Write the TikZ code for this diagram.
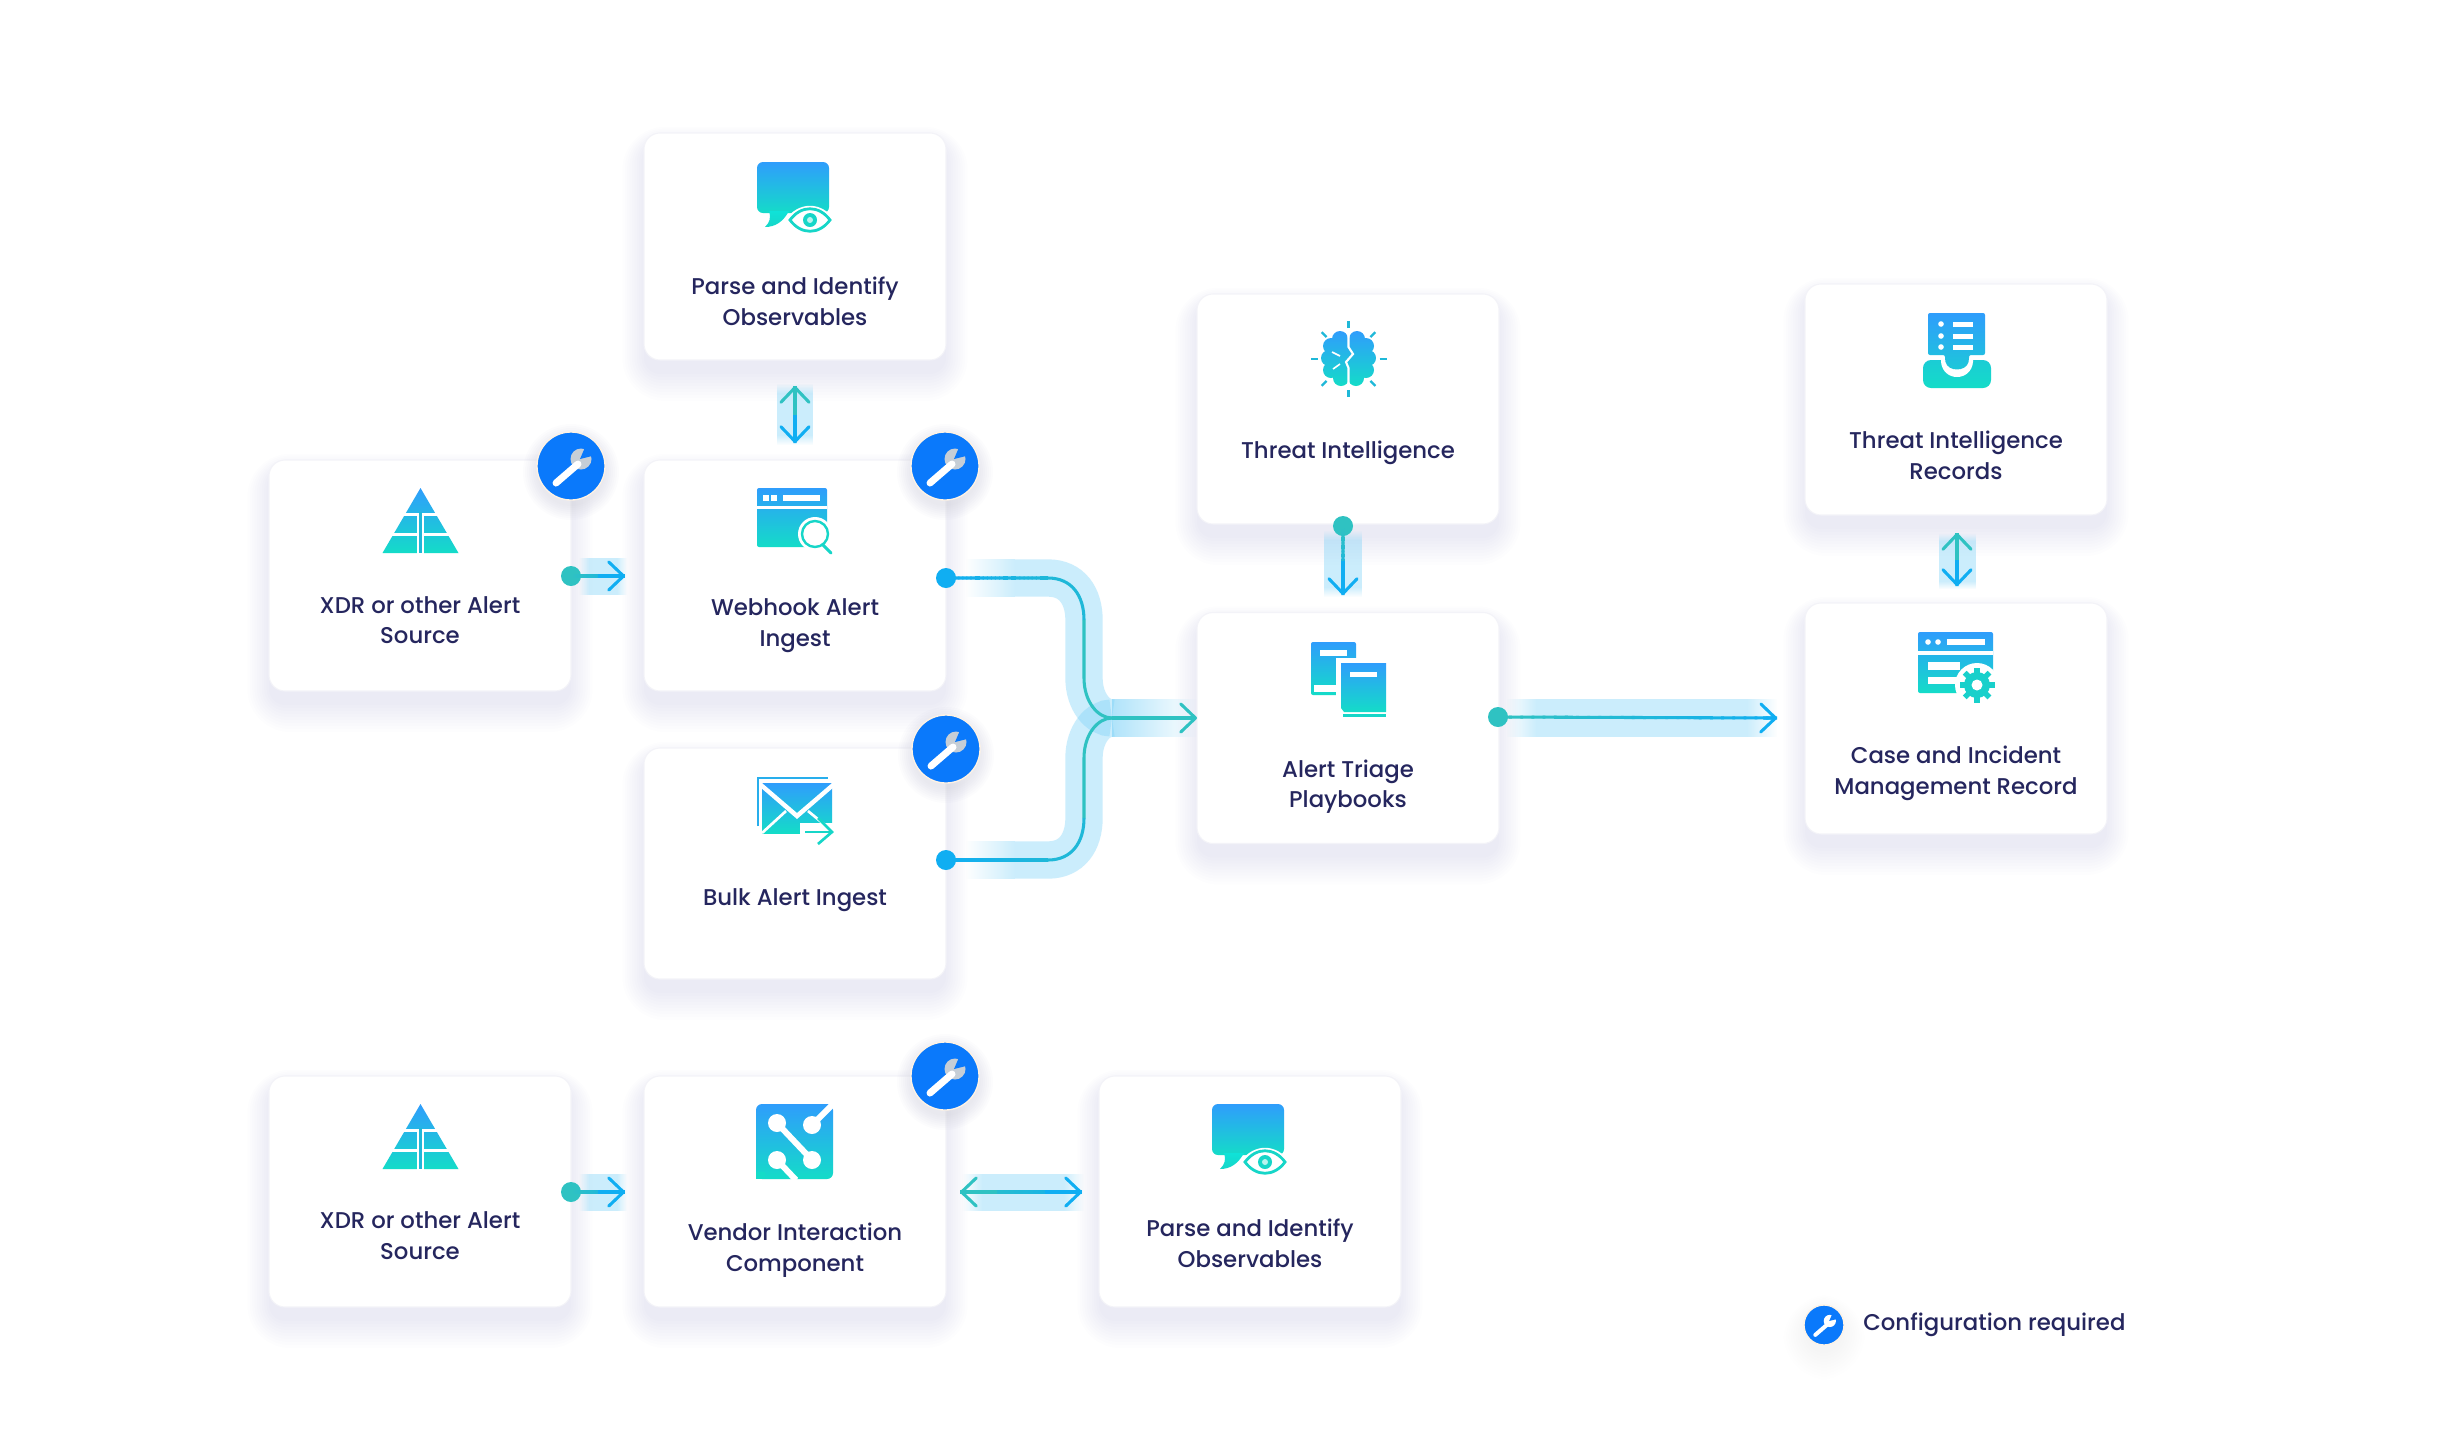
\documentclass[tikz,border=0pt]{standalone}
\usepackage{fontspec}
\setmainfont{Poppins}
\newfontfamily\labfont{Poppins Medium}
\usetikzlibrary{arrows.meta,calc,fadings}
\pgfdeclarelayer{bg}
\pgfsetlayers{bg,main}
\tikzfading[name=fadeL,left color=transparent!100,right color=transparent!0]
\tikzfading[name=fadeR,left color=transparent!0,right color=transparent!100]
\tikzfading[name=fadeT,top color=transparent!100,bottom color=transparent!0]
\tikzfading[name=fadeB,top color=transparent!0,bottom color=transparent!100]
\definecolor{gtop}{HTML}{2F9DFC}
\definecolor{gbot}{HTML}{14DCC8}
\definecolor{inkc}{HTML}{25265E}
\definecolor{bandc}{HTML}{7FD3F8}
\definecolor{shadowc}{HTML}{44448A}
\definecolor{edgec}{HTML}{F3F3F8}
\definecolor{bluec}{HTML}{10AEF2}
\definecolor{midc}{HTML}{1FB8D8}
\definecolor{tealc}{HTML}{2FC2C2}
\definecolor{badgec}{HTML}{0A79FB}
\definecolor{ringc}{HTML}{FFF3E4}
\definecolor{wrenchc}{HTML}{C6CED6}
\definecolor{eyec}{HTML}{16D6C8}
\tikzset{
 cardbox/.style={rounded corners=12pt,fill=white,draw=edgec,line width=.8pt,inner sep=0pt,outer sep=0pt},
 lab/.style={font=\labfont\fontsize{17.1}{23}\selectfont,text=inkc,align=center,inner sep=0pt},
 dotb/.style={circle,inner sep=0pt,minimum size=15pt,fill=bluec},
 dott/.style={circle,inner sep=0pt,minimum size=15pt,fill=tealc},
 badge/.style={circle,inner sep=0pt,minimum size=51pt,fill=badgec,draw=ringc,line width=1pt},
 wire/.style={line width=2.3pt},
 barb/.style={-{Straight Barb[length=11pt,width=21pt,round]}},
 barbl/.style={{Straight Barb[length=11pt,width=21pt,round]}-},
 igrad/.style={top color=gtop,bottom color=gbot},
 bandfill/.style={fill=bandc,opacity=.4},
 bandline/.style={draw=bandc,opacity=.4,line width=28pt}
}
\newcommand\softshadow[6]{%
 \begin{pgfonlayer}{bg}
 \foreach \ee in {0,3,...,27}{
  \fill[shadowc,opacity=#6,rounded corners={(#5+\ee)*0.75pt}]
   (#1-#3/2-\ee*.8,#2-#4/2-\ee*.6+10) rectangle (#1+#3/2+\ee*.8,#2+#4/2+\ee+14);}
 \end{pgfonlayer}}
\newcommand\Card[5]{%
 \softshadow{#2}{#3}{#4}{#5}{16}{.0085}
 \node[cardbox,minimum width={#4*0.75pt},minimum height={#5*0.75pt}] (#1) at (#2,#3) {};}
\newcommand\Badge[3]{%
 \softshadowb{#2}{#3}
 \node[badge] (#1) at (#2,#3) {};
 \wrench{#1}{1}{wrenchc}{7}}
\newcommand\softshadowb[2]{%
 \foreach \ee in {0,2,...,14}{
  \fill[shadowc,opacity=.012] (#1,#2+6) circle[radius=34+\ee];}}
\newcommand\wrench[4]{%
 \begin{scope}[shift={(#1.center)},scale=#2]
  \fill[#3] (10,-7) circle[radius=10.5];
  \fill[badgec] (9,-7) -- (15,-21) -- (25,-11) -- cycle;
  \draw[white,line width={#4*0.75pt},line cap=round] (-15,17) -- (7,-2);
 \end{scope}}
\newcommand\gline[4]{%
 \foreach \ii in {0,...,24}{
  \pgfmathsetmacro\pc{100-4*\ii}
  \pgfmathsetmacro\ta{\ii/25}
  \pgfmathsetmacro\tb{min(1,(\ii+1.25)/25)}
  \draw[wire,color={#3!\pc!#4}] ($(#1)!\ta!(#2)$) -- ($(#1)!\tb!(#2)$);}}
% bands
\newcommand\hband[5]{% x1 x2 yc fade h
 \fill[bandfill,path fading=fadeL] (#1,#3-#5/2) rectangle (#1+#4,#3+#5/2);
 \fill[bandfill] (#1+#4,#3-#5/2) rectangle (#2-#4,#3+#5/2);
 \fill[bandfill,path fading=fadeR] (#2-#4,#3-#5/2) rectangle (#2,#3+#5/2);}
\newcommand\vband[5]{% y1 y2 xc fade w
 \fill[bandfill,path fading=fadeT] (#3-#5/2,#1) rectangle (#3+#5/2,#1+#4);
 \fill[bandfill] (#3-#5/2,#1+#4) rectangle (#3+#5/2,#2-#4);
 \fill[bandfill,path fading=fadeB] (#3-#5/2,#2-#4) rectangle (#3+#5/2,#2);}
% icons
\newcommand\iconpyramid[2]{%
 \begin{scope}[shift={(#1,#2)}]
  \shade[igrad] (0,0) -- (38,65) -- (-38,65) -- cycle;
  \fill[white] (-40,25) rectangle (40,28);
  \fill[white] (-40,45) rectangle (40,48);
  \fill[white] (-3.5,26) rectangle (3.5,66);
  \fill[midc] (-1.2,24) rectangle (1.2,65);
 \end{scope}}
\newcommand\iconparse[2]{%
 \begin{scope}[shift={(#1,#2)}]
  \shade[igrad,rounded corners=4.5pt] (0,0) -- (72,0) -- (72,51) -- (0,51) -- cycle;
  \shade[bottom color=eyec,top color=eyec!70!cyan] (4,49) -- (32,49) .. controls (26,60) and (18,65) .. (8,65) .. controls (13,60) and (14,56) .. (12,49) -- cycle;
  \fill[white] (28,58) .. controls (42,39) and (64,39) .. (78,58) .. controls (64,77) and (42,77) .. (28,58) -- cycle;
  \draw[eyec,line width=2.1pt] (33,58) .. controls (44,43) and (62,43) .. (73,58) .. controls (62,73) and (44,73) .. (33,58) -- cycle;
  \fill[eyec] (53,58) circle[radius=7];
  \fill[white!70!eyec] (53,58) circle[radius=3];
 \end{scope}}
\begin{document}
\begin{tikzpicture}[x=0.75pt,y=-0.75pt]
\useasboundingbox (0,0) rectangle (2449,1440);
\begin{pgfonlayer}{bg}\fill[white] (0,0) rectangle (2449,1440);\end{pgfonlayer}
% cards
\Card{parse}{795}{246.5}{302}{227}
\Card{xdr}{420}{575.5}{302}{231}
\Card{web}{795}{575.5}{302}{231}
\Card{bulk}{795}{863.5}{302}{231}
\Card{threat}{1348}{409}{302}{230}
\Card{triage}{1348}{728}{302}{231}
\Card{rec}{1956}{399.5}{302}{231}
\Card{case}{1956}{718.5}{302}{231}
\Card{xdrb}{420}{1191.5}{302}{231}
\Card{vendor}{795}{1191.5}{302}{231}
\Card{parseb}{1250}{1191.5}{302}{231}
% labels
\node[lab] (parsel) at (795,301) {Parse and Identify\\Observables};
\node[lab] (xdrl) at (420,620) {XDR or other Alert\\Source};
\node[lab] (webl) at (795,625.5) {Webhook Alert\\Ingest};
\node[lab] (bulkl) at (795,900) {Bulk Alert Ingest};
\node[lab] (threatl) at (1348,452.5) {Threat Intelligence};
\node[lab] (triagel) at (1348,786.5) {Alert Triage\\Playbooks};
\node[lab] (recl) at (1956,455) {Threat Intelligence\\Records};
\node[lab] (casel) at (1956,773) {Case and Incident\\Management Record};
\node[lab] (xdrbl) at (420,1235.5) {XDR or other Alert\\Source};
\node[lab] (vendorl) at (795,1250) {Vendor Interaction\\Component};
\node[lab] (parsebl) at (1250,1243.5) {Parse and Identify\\Observables};
% bands
\hband{579}{627}{576}{10}{37}
\hband{579}{627}{1192}{10}{37}
\vband{383}{445}{795}{10}{36}
\vband{533}{589}{1957}{8}{37}
\vband{530}{597}{1343}{10}{38}
\hband{1506}{1777}{718}{30}{38}
\hband{962}{1084}{1192}{20}{37}
% dots
\node[dott] (d1) at (571,576) {};
\node[dott] (d2) at (571,1192) {};
\node[dotb] (d3) at (946,578) {};
\node[dotb] (d4) at (946,860) {};
\node[dott] (d5) at (1343,526) {};
\node[dott] (d6) at (1498,717) {};
% free ends
\coordinate (t1) at (625,576);
\coordinate (t2) at (625,1192);
\coordinate (t5) at (1343,595);
\coordinate (t6) at (1777,718);
\coordinate (pa) at (795,386);
\coordinate (pb) at (795,443);
\coordinate (ra) at (1957,533);
\coordinate (rb) at (1957,586);
\coordinate (va) at (960,1192);
\coordinate (vb) at (1082,1192);
\coordinate (m) at (1112,718);
\coordinate (t3) at ($(d3)+(102,0)$);
\coordinate (t4) at ($(d4)+(102,0)$);
\coordinate (c3a) at ($(t3)+(36,42)$);
\coordinate (c3b) at ($(m)+(-28,-40)$);
\coordinate (c4a) at ($(t4)+(36,-42)$);
\coordinate (c4b) at ($(m)+(-28,40)$);
\coordinate (s3) at ($(d3)+(69,0)$);
\coordinate (s4) at ($(d4)+(69,0)$);
% merge bands
\fill[bandfill,path fading=fadeL] (965,559) rectangle (1015,597);
\fill[bandfill,path fading=fadeL] (965,841) rectangle (1015,879);
\path[bandline] (s3) -- (t3) .. controls +(24,0) and +(0,-24) .. (c3a) -- (c3b) .. controls +(0,24) and +(-14,0) .. (m);
\path[bandline] (s4) -- (t4) .. controls +(24,0) and +(0,24) .. (c4a) -- (c4b) .. controls +(0,-24) and +(-14,0) .. (m);
\fill[bandc,opacity=.62,path fading=fadeR] (m |- 0,699) rectangle (triage.west |- 0,737);
% connectors
\gline{d1}{t1}{tealc}{bluec}
\draw[wire,bluec,barb] ($(d1)!.5!(t1)$) -- (t1);
\gline{d2}{t2}{tealc}{bluec}
\draw[wire,bluec,barb] ($(d2)!.5!(t2)$) -- (t2);
\gline{d5}{t5}{tealc}{bluec}
\draw[wire,bluec,barb] ($(d5)!.5!(t5)$) -- (t5);
\gline{d6}{t6}{tealc}{bluec}
\draw[wire,bluec,barb] ($(d6)!.95!(t6)$) -- (t6);
\gline{pa}{pb}{tealc}{bluec}
\draw[wire,bluec,barb] ($(pa)!.5!(pb)$) -- (pb);
\draw[wire,tealc,barbl] (pa) -- ($(pa)!.5!(pb)$);
\gline{ra}{rb}{tealc}{bluec}
\draw[wire,bluec,barb] ($(ra)!.5!(rb)$) -- (rb);
\draw[wire,tealc,barbl] (ra) -- ($(ra)!.5!(rb)$);
\gline{va}{vb}{tealc}{bluec}
\draw[wire,bluec,barb] ($(va)!.7!(vb)$) -- (vb);
\draw[wire,tealc,barbl] (va) -- ($(va)!.3!(vb)$);
\gline{d3}{t3}{bluec}{midc}
\gline{d4}{t4}{bluec}{midc}
\draw[wire,midc] (t3) .. controls +(24,0) and +(0,-24) .. (c3a);
\draw[wire,midc] (t4) .. controls +(24,0) and +(0,24) .. (c4a);
\draw[wire,tealc] (c3a) -- (c3b) .. controls +(0,24) and +(-14,0) .. (m);
\draw[wire,tealc] (c4a) -- (c4b) .. controls +(0,-24) and +(-14,0) .. (m);
\draw[wire,tealc,barb] (m) -- (triage.west |- m);
% badges
\Badge{bxdr}{571}{466}
\Badge{bweb}{945}{466}
\Badge{bbulk}{946}{749}
\Badge{bvend}{945}{1076}
% icons
\iconparse{757}{162}
\iconparse{1212}{1104}
\iconpyramid{420.5}{488}
\iconpyramid{420.5}{1104}
% webhook window
\shade[igrad,rounded corners=1.5pt] (757,488) rectangle (827,547);
\fill[white] (757,506) rectangle (827,509);
\fill[white] (763,495) rectangle (769,501);
\fill[white] (771,495) rectangle (777,501);
\fill[white] (783,495) rectangle (820,501);
\fill[white] (815,534) circle[radius=17];
\draw[eyec,line width=2.2pt,line cap=round] (823,545) -- (831,553);
\draw[eyec,line width=1.8pt] (815,534) circle[radius=13];
% bulk envelope
\draw[gtop!70!eyec,line width=1.8pt] (758,826) -- (758,778) -- (828,778);
\shade[igrad] (762,783) rectangle (832,833);
\fill[white] (760,783) -- (762,783) -- (797,813) -- (832,783) -- (834,783) -- (834,787) -- (797,819) -- (760,787) -- cycle;
\draw[white,line width=2pt] (762,833) -- (786,811);
\fill[white] (800,823) rectangle (835,840);
\draw[white,line width=2pt] (808,811) -- (825,825);
\draw[eyec,line width=2pt] (805,832) -- (831,832);
\draw[eyec,line width=2pt] (818,818) -- (832,832) -- (818,844);
% brain
\shade[igrad] (1348.5,359) circle[radius=20] (1340,339) circle[radius=8] (1331,346) circle[radius=8] (1329,358) circle[radius=8] (1331,370) circle[radius=8] (1341,378) circle[radius=8] (1357,339) circle[radius=8] (1366,346) circle[radius=8] (1368,358) circle[radius=8] (1366,370) circle[radius=8] (1356,378) circle[radius=8];
\draw[white,line width=1.6pt] (1348.5,332) -- (1348.5,347) -- (1353,354) -- (1346,362) -- (1348.5,368) -- (1348.5,388);
\draw[white,line width=1.2pt] (1332,352) -- (1340,356);
\draw[white,line width=1.2pt] (1333,369) -- (1340,364);
\foreach \aa in {0,45,...,315}{
 \draw[line width=1.8pt,color=midc] ($(1348.5,359)+(\aa:31)$) -- ($(1348.5,359)+(\aa:38)$);}
% books
\shade[igrad,rounded corners=1.5pt] (1311,642) rectangle (1356,695);
\fill[white] (1314,685) rectangle (1356,692);
\fill[white] (1320,650) rectangle (1347,656);
\fill[white] (1336,658) rectangle (1390,722);
\shade[igrad] (1341,663) -- (1386,663) -- (1386,712) -- (1344,712) -- (1341,708) -- cycle;
\fill[eyec] (1343,714) rectangle (1386,717);
\fill[white] (1350,671.5) rectangle (1377,677);
% inbox
\shade[bottom color=gbot,top color=gbot!75!gtop,rounded corners=6pt] (1923,360) rectangle (1991,388);
\fill[white] (1941,352) -- (1941,362) .. controls (1943,382) and (1971,382) .. (1973,362) -- (1973,352) -- cycle;
\shade[top color=gtop,bottom color=gtop!30!gbot,rounded corners=1.5pt] (1928,313) -- (1985,313) -- (1985,355) -- (1969,355) -- (1969,360) .. controls (1966,372) and (1948,372) .. (1945,360) -- (1945,355) -- (1928,355) -- cycle;
\fill[white] (1941,324) circle[radius=2.8];
\fill[white] (1941,336) circle[radius=2.8];
\fill[white] (1941,347) circle[radius=2.8];
\fill[white] (1953,321.5) rectangle (1973,326.5);
\fill[white] (1953,333.5) rectangle (1973,338.5);
\fill[white] (1953,344.5) rectangle (1973,349.5);
% case window
\shade[igrad,rounded corners=1.5pt] (1918,632) rectangle (1993,693);
\fill[white] (1918,651) rectangle (1993,655);
\fill[white] (1928,642) circle[radius=2.8];
\fill[white] (1938,642) circle[radius=2.8];
\fill[white] (1947,639) rectangle (1985,645);
\fill[white] (1928,662) rectangle (1960,670);
\fill[white] (1928,677) rectangle (1957,684);
\fill[white] (1977,685) circle[radius=22];
\foreach \aa in {0,45,...,315}{
 \draw[eyec!80!midc,line width=4pt] (1977,685) -- ++(\aa:17.5);}
\fill[eyec!80!midc] (1977,685) circle[radius=13];
\fill[white] (1977,685) circle[radius=5.5];
% vendor
\shade[igrad,rounded corners=4.5pt] (756,1179) -- (756,1104) -- (833,1104) -- (833,1179) -- cycle;
\fill[white] (750,1172) rectangle (760,1182);
\fill[gbot] (756,1172) rectangle (765,1179);
\draw[white,line width=4.5pt] (777,1123) -- (812,1160);
\draw[white,line width=4.5pt] (777,1160) -- (796,1180);
\draw[white,line width=4.5pt] (812,1125) -- (835,1102);
\fill[white] (777,1123) circle[radius=9];
\fill[white] (812,1160) circle[radius=9];
\fill[white] (777,1160) circle[radius=9];
\fill[white] (812,1125) circle[radius=9];
% legend
\softshadow{1824}{1320}{38}{38}{19}{.004}
\node[badge,minimum size=30pt] (bleg) at (1824,1325) {};
\wrench{bleg}{.58}{white}{4}
\node[lab,anchor=west] (legl) at (1863,1325) {Configuration required};
\end{tikzpicture}
\end{document}
